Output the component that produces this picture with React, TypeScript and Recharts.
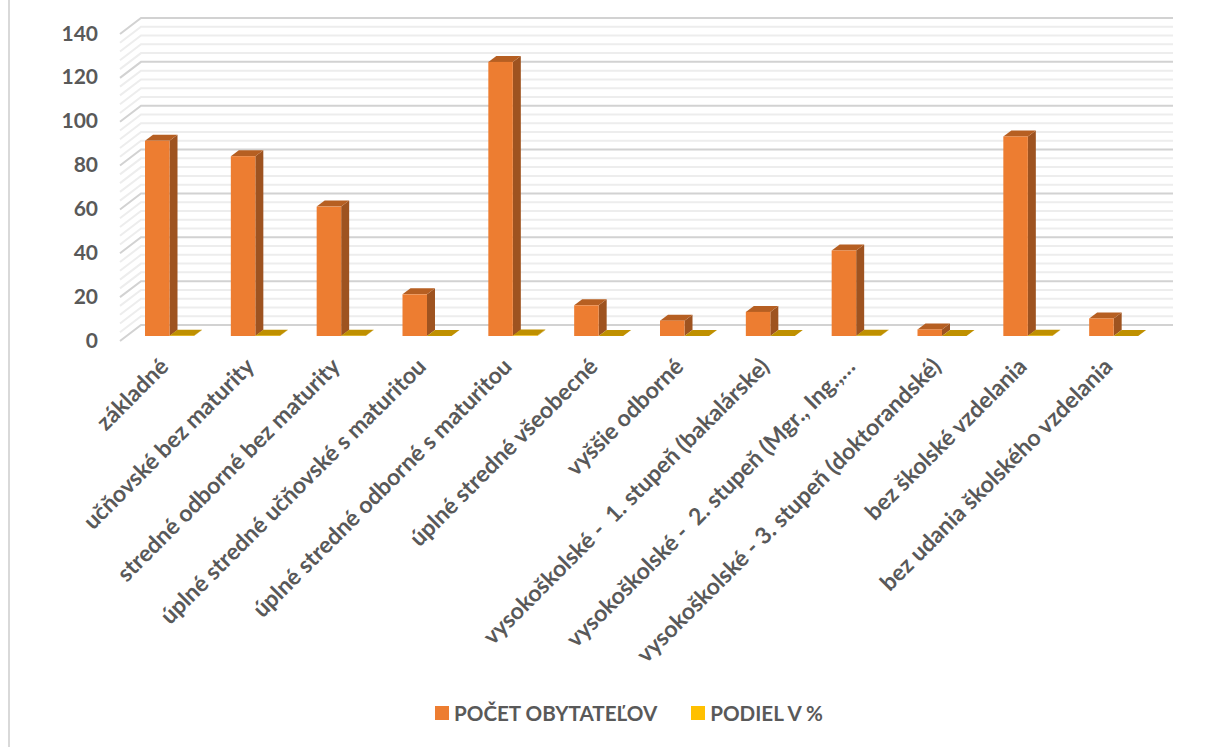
import React from 'react'
import {
  BarChart,
  Bar,
  XAxis,
  YAxis,
  CartesianGrid,
  Legend,
} from 'recharts'

const kategorie = [
  'základné',
  'učňovské bez maturity',
  'stredné odborné bez maturity',
  'úplné stredné učňovské s maturitou',
  'úplné stredné odborné s maturitou',
  'úplné stredné všeobecné',
  'vyššie odborné',
  'vysokoškolské -\u00a0 1. stupeň (bakalárske)',
  'vysokoškolské -\u00a0 2. stupeň (Mgr., Ing.,…',
  'vysokoškolské - 3. stupeň (doktorandské)',
  'bez školské vzdelania',
  'bez udania školského vzdelania',
]
const pocetObyvatelov = [89, 82, 59, 19, 125, 14, 7, 11, 39, 3, 91, 8]
const podiel = [0.16, 0.15, 0.11, 0.03, 0.23, 0.03, 0.01, 0.02, 0.07, 0.01, 0.17, 0.01]
const yTicks = [0, 20, 40, 60, 80, 100, 120, 140]
const gridValues = [
  0, 4, 8, 12, 16, 20, 24, 28, 32, 36, 40, 44, 48, 52, 56, 60, 64, 68, 72, 76, 80, 84, 88, 92, 96,
  100, 104, 108, 112, 116, 120, 124, 128, 132, 136, 140,
]

const dataset = kategorie.map((nazov, i) => ({
  nazov,
  pocet: pocetObyvatelov[i],
  podiel: podiel[i],
}))

const FONT = 'Lato, sans-serif'
const TEXT = '#595959'
const WALL_X = 120
const BACK_X = 141
const RIGHT_X = 1173

// steny grafu: bocna uhlopriecka + ciara na zadnej stene
function GridLine(props: any) {
  const y = props.y1
  const major = gridValues[props.index] % 20 === 0
  const stroke = major ? '#d2d2d2' : '#ededed'
  return (
    <polyline
      points={`${WALL_X},${y + 5} ${BACK_X},${y - 11} ${RIGHT_X},${y - 11}`}
      fill="none"
      stroke={stroke}
      strokeWidth={2}
    />
  )
}

function Bar3D(props: any) {
  const { x, y, width, height, front, side, top } = props
  const dx = 8
  const dy = 6
  const base = y + height
  return (
    <g>
      <polygon
        points={`${x + width},${y} ${x + width + dx},${y - dy} ${x + width + dx},${base - dy} ${x + width},${base}`}
        fill={side}
      />
      <polygon
        points={`${x},${y} ${x + dx},${y - dy} ${x + width + dx},${y - dy} ${x + width},${y}`}
        fill={top}
      />
      <rect x={x} y={y} width={width} height={height} fill={front} />
    </g>
  )
}

function YTick({ x, y, payload }: any) {
  return (
    <text x={x} y={y + 3} textAnchor="end" dominantBaseline="central" fontSize={21} fontWeight={700} fontFamily={FONT} fill={TEXT}>
      {payload.value}
    </text>
  )
}

function XTick({ x, y, payload }: any) {
  return (
    <text
      x={x}
      y={y}
      textAnchor="end"
      fontSize={23}
      fontWeight={700}
      fontFamily={FONT}
      fill={TEXT}
      transform={`rotate(-45 ${x} ${y})`}
    >
      {payload.value}
    </text>
  )
}

function LegendBox({ payload }: any) {
  return (
    <div style={{ display: 'flex', gap: 34, alignItems: 'center' }}>
      {(payload || []).map((p: any) => (
        <div key={p.value} style={{ display: 'flex', alignItems: 'center', gap: 5 }}>
          <span style={{ width: 14, height: 14, background: p.color, display: 'inline-block' }} />
          <span style={{ color: TEXT, fontFamily: FONT, fontWeight: 700, fontSize: 20.6 }}>{p.value}</span>
        </div>
      ))}
    </div>
  )
}

export default function App() {
  return (
    <div style={{ position: 'absolute', left: 0, top: 0, width: 1230, height: 747, background: '#fff' }}>
      <div style={{ position: 'absolute', left: 8, top: 0, bottom: 0, width: 2, background: '#d9d9d9' }} />
      <BarChart
        width={1230}
        height={747}
        data={dataset}
        margin={{ top: 29, right: 73, bottom: 0, left: 0 }}
        barGap={0}
        barCategoryGap={0}
        style={{ position: 'absolute', left: 0, top: 0 }}
      >
        <CartesianGrid
          vertical={false}
          horizontalValues={gridValues}
          horizontal={(p: any) => <GridLine key={p.index} {...p} />}
        />
        <XAxis
          dataKey="nazov"
          interval={0}
          axisLine={false}
          tickLine={false}
          tick={<XTick />}
          tickMargin={26}
          height={387}
        />
        <YAxis
          domain={[0, 140]}
          ticks={yTicks}
          interval={0}
          axisLine={false}
          tickLine={false}
          tick={<YTick />}
          tickMargin={23}
          width={127}
        />
        <Bar
          dataKey="pocet"
          name="POČET OBYTATEĽOV"
          fill="#ed7d31"
          barSize={24.5}
          isAnimationActive={false}
          shape={(p: any) => <Bar3D {...p} front="#ed7d31" side="#9e5320" top="#b65f22" />}
        />
        <Bar
          dataKey="podiel"
          name="PODIEL V %"
          fill="#ffc000"
          barSize={24.5}
          isAnimationActive={false}
          shape={(p: any) => <Bar3D {...p} front="#ffc000" side="#bf9000" top="#bf9000" />}
        />
        <Legend
          itemSorter="dataKey"
          content={<LegendBox />}
          wrapperStyle={{ left: 435, top: 701, width: 460, bottom: 'auto' }}
        />
      </BarChart>
    </div>
  )
}
